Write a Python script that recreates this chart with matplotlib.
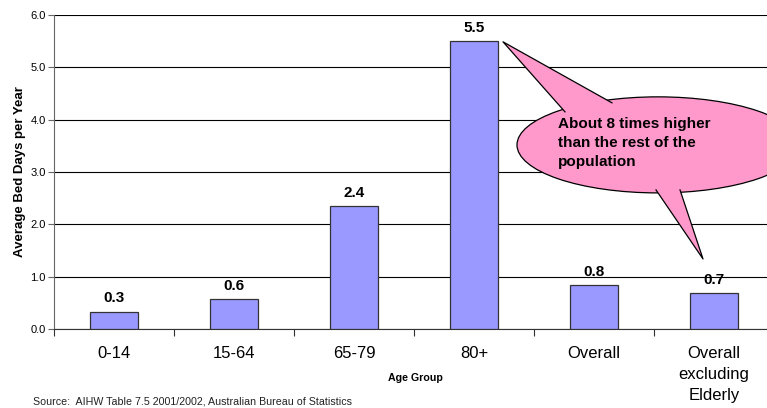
import matplotlib
matplotlib.use("Agg")
import matplotlib.pyplot as plt
from matplotlib.patches import Ellipse, Polygon
import numpy as np

plt.rcParams['font.family'] = ['Liberation Sans', 'DejaVu Sans']

categories = ['0-14', '15-64', '65-79', '80+', 'Overall', 'Overall\nexcluding\nElderly']
values = [0.33, 0.57, 2.35, 5.5, 0.84, 0.68]
labels = ['0.3', '0.6', '2.4', '5.5', '0.8', '0.7']
callout = 'About 8 times higher\nthan the rest of the\npopulation'
pink = '#FF99CC'

fig = plt.figure(figsize=(7.67, 4.08), dpi=100)
# axes run past the right edge, like the original slide crop
ax = fig.add_axes([54 / 767, 79 / 408, 720 / 767, 314 / 408])

x = np.arange(len(categories))
ax.bar(x, values, width=0.405, color='#9999FF', edgecolor='#333333', linewidth=0.9, zorder=3)
for xi, v, lab in zip(x, values, labels):
    ax.text(xi, v + 0.12, lab, ha='center', va='bottom', fontsize=11, fontweight='bold', zorder=4)

ax.set_xlim(-0.5, 5.5)
ax.set_ylim(0, 6)
ax.set_yticks(np.arange(0, 6.1, 1.0))
ax.set_yticklabels(['%.1f' % t for t in np.arange(0, 6.1, 1.0)], fontsize=8)
ax.yaxis.grid(True, color='black', linewidth=0.8, zorder=0)
ax.set_axisbelow(True)

ax.set_xticks(np.arange(-0.5, 5.6, 1.0))
ax.set_xticklabels([])
ax.tick_params(axis='x', length=5, direction='out', color='#333333')
ax.tick_params(axis='y', length=4, direction='out', color='#666666', pad=2)
for xi, cat in zip(x, categories):
    ax.text(xi, -0.33, cat, ha='center', va='top', fontsize=12, linespacing=1.5)

for s in ['top', 'right']:
    ax.spines[s].set_visible(False)
ax.spines['left'].set_color('#666666')
ax.spines['bottom'].set_color('#333333')

ax.set_ylabel('Average Bed Days per Year', fontsize=9.5, fontweight='bold', labelpad=3)
fig.text(415 / 767, 1 - 378 / 408, 'Age Group', ha='center', va='center', fontsize=7.7, fontweight='bold')
fig.text(33 / 767, 1 - 402 / 408, 'Source:  AIHW Table 7.5 2001/2002, Australian Bureau of Statistics',
         ha='left', va='center', fontsize=7.7, color='#222222')

# callout bubble, built in data coordinates (120 px per category, 52.3 px per unit)
def px(xp, yp):
    return ((xp - 54) / 120 - 0.5, (329 - yp) / 52.3)

tails = [
    [px(503, 42), px(565, 112), px(612, 103)],
    [px(703, 259), px(656, 190), px(680, 190)],
]
ell = Ellipse(px(658, 145), 282 / 120, 96 / 52.3, facecolor=pink, edgecolor='black',
              linewidth=0.9, zorder=5, clip_on=False)
ax.add_patch(ell)
for tri in tails:
    ax.add_patch(Polygon(tri, closed=True, facecolor=pink, edgecolor='none', zorder=6, clip_on=False))
    ax.plot([tri[1][0], tri[0][0], tri[2][0]], [tri[1][1], tri[0][1], tri[2][1]],
            color='black', linewidth=0.9, zorder=7, clip_on=False)
tx, ty = px(558, 117)
ax.text(tx, ty, callout, ha='left', va='top', fontsize=11, fontweight='bold', linespacing=1.45, zorder=8)

fig.savefig('out.png', dpi=100)
